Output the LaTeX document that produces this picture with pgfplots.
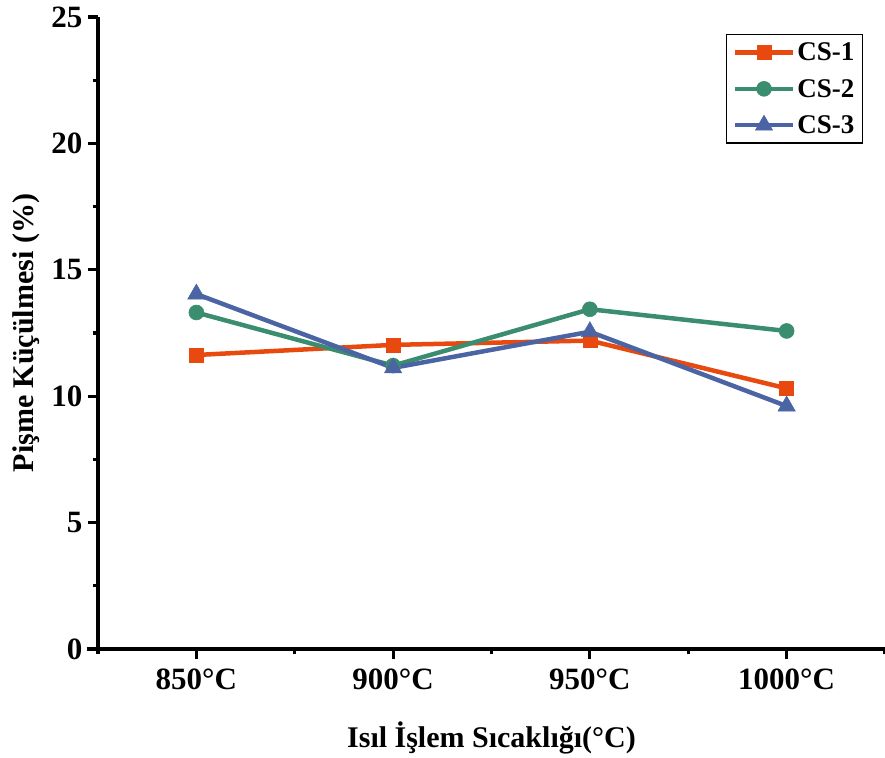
\documentclass[border=0pt]{standalone}
\usepackage{fontspec}
\setmainfont{Liberation Serif}
\usepackage{pgfplots}
\pgfplotsset{compat=1.18}
\definecolor{cOne}{HTML}{E8490F}
\definecolor{cTwo}{HTML}{3A8D6E}
\definecolor{cThree}{HTML}{4A64A4}
\begin{document}
\begin{tikzpicture}
\begin{axis}[
  scale only axis,
  width=787pt, height=632pt,
  xmin=-0.5, xmax=3.5, ymin=0, ymax=25,
  axis x line*=bottom, axis y line*=left,
  axis line style={line width=3.6pt},
  x axis line style={shorten <=-11pt},
  xtick={0,1,2,3},
  xticklabels={850°C,900°C,950°C,1000°C},
  minor xtick={-0.5,0.5,1.5,2.5,3.5},
  ytick={0,5,10,15,20,25},
  minor ytick={2.5,7.5,12.5,17.5,22.5},
  tick align=outside,
  major tick length=10pt, minor tick length=5pt,
  every tick/.style={line width=3.2pt, black},
  /pgf/number format/assume math mode=true,
  ticklabel style={font=\fontsize{31}{33}\selectfont\bfseries},
  xticklabel style={yshift=-6pt},
  yticklabel style={xshift=-2pt},
  xlabel={Isıl İşlem Sıcaklığı(°C)},
  ylabel={Pişme Küçülmesi (\%)},
  label style={font=\fontsize{30}{32}\selectfont\bfseries},
  xlabel style={yshift=-25pt},
  ylabel style={yshift=5pt},
  legend style={at={(0.972,0.973)}, anchor=north east, draw=black, line width=1.4pt,
    font=\fontsize{27}{29}\selectfont\bfseries, row sep=13pt, inner sep=6pt},
  legend cell align=left,
  legend image code/.code={\draw[mark repeat=2,mark phase=2] plot coordinates {(0pt,0pt) (29pt,0pt) (58pt,0pt)};},
  every axis plot/.append style={line width=4.5pt},
]
\addplot[cOne, mark=square*, mark size=7pt, mark options={solid, line width=0.5pt}] coordinates {(0,11.63) (1,12.03) (2,12.20) (3,10.31)};
\addlegendentry{CS-1}
\addplot[cTwo, mark=*, mark size=7.5pt, mark options={solid, line width=0.5pt}] coordinates {(0,13.31) (1,11.21) (2,13.44) (3,12.58)};
\addlegendentry{CS-2}
\addplot[cThree, mark=triangle*, mark size=10pt, mark options={solid, line width=0.5pt}] coordinates {(0,14.04) (1,11.12) (2,12.55) (3,9.61)};
\addlegendentry{CS-3}
\end{axis}
\pgfresetboundingbox
\path ([shift={(-98pt,-108pt)}]current axis.south west) rectangle ([shift={(0pt,17pt)}]current axis.north east);
\end{tikzpicture}
\end{document}
